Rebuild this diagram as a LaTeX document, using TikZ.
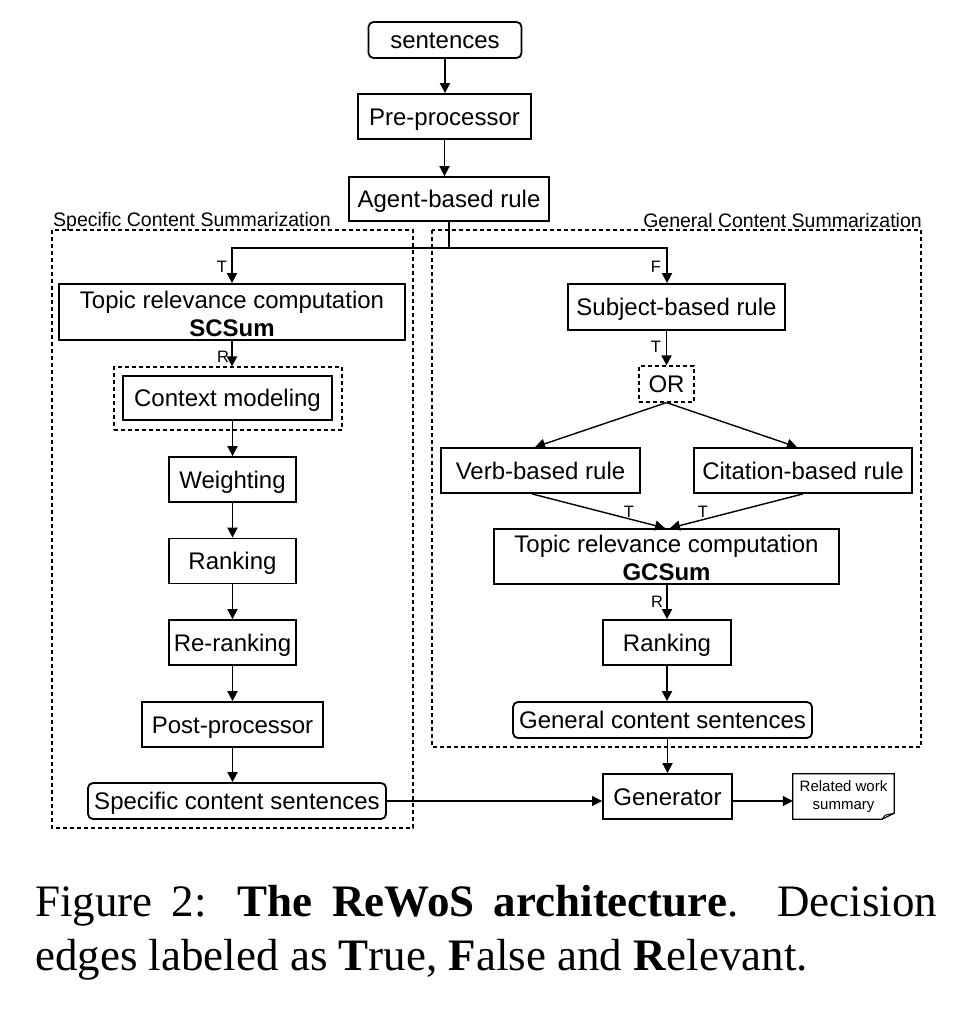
\documentclass[tikz,border=0pt]{standalone}
\usepackage{fontspec}
\setmainfont{Liberation Serif}
\newfontfamily\dsans{Liberation Sans}
\usetikzlibrary{arrows.meta}
\newcommand{\boxfont}{\dsans\fontsize{24}{25}\selectfont}
\newcommand{\labfont}{\dsans\fontsize{16.5}{18}\selectfont}
\newcommand{\secfont}{\dsans\fontsize{19.5}{21}\selectfont}
\newcommand{\notefont}{\dsans\fontsize{15}{18}\selectfont}
\begin{document}
\begin{tikzpicture}[x=1pt,y=-1pt,
  box/.style={draw, line width=1.8pt, inner sep=0pt, font=\boxfont, align=center, text height=20pt, text depth=2.8pt},
  rbox/.style={box, rounded corners=5pt},
  dbox/.style={draw, line width=1.2pt, dash pattern=on 4pt off 3pt},
  txt/.style={font=\boxfont, inner sep=0pt, anchor=base},
  arr/.style={-{Triangle[length=10pt,width=10pt]}, line width=1.8pt},
  thin arr/.style={-{Triangle[length=10pt,width=10pt]}, line width=1.4pt},
  lab/.style={font=\labfont, inner sep=0pt},
  sec/.style={font=\secfont, inner sep=0pt}]
\useasboundingbox (0,0) rectangle (968,1024);
\fill[white] (0,0) rectangle (968,1024);

% section frames
\draw[dbox] (52,230) rectangle (413,828);
\draw[dbox] (432,230) rectangle (921,747);
\node[sec, anchor=west] (secL) at (53,221) {Specific Content Summarization};
\node[sec, anchor=east] (secR) at (922,221) {General Content Summarization};

% top chain
\node[rbox, minimum width=153pt, minimum height=36pt] (sent) at (445,40) {sentences};
\node[box, minimum width=173pt, minimum height=45pt] (pre) at (444.5,116.5) {Pre-processor};
\node[box, minimum width=200pt, minimum height=44pt] (agent) at (449,199) {Agent-based rule};

% left branch
\node[box, minimum width=346pt, minimum height=56pt] (tr1) at (232,312) {};
\node[txt] (tr1a) at (232,308) {Topic relevance computation};
\node[txt] (tr1b) at (232,336) {\textbf{SCSum}};
\node[dbox, inner sep=0pt, minimum width=228pt, minimum height=63pt] (ctxo) at (228,398.5) {};
\node[box, line width=1.1pt, minimum width=209pt, minimum height=44pt] (ctx) at (227.5,398) {Context modeling};
\node[box, minimum width=127pt, minimum height=45pt] (weight) at (232.5,479.5) {Weighting};
\node[box, minimum width=127pt, minimum height=45pt] (rank1) at (232.5,561) {Ranking};
\node[box, minimum width=127pt, minimum height=45pt] (rerank) at (232.5,642.5) {Re-ranking};
\node[box, minimum width=181pt, minimum height=45pt] (post) at (232.5,724.5) {Post-processor};
\node[rbox, minimum width=298pt, minimum height=36pt] (scs) at (237,801) {Specific content sentences};

% right branch
\node[box, minimum width=217pt, minimum height=46pt] (subj) at (676.5,307) {Subject-based rule};
\node[dbox, inner sep=0pt, minimum width=55pt, minimum height=36pt, font=\boxfont, text height=20pt, text depth=2.8pt] (or) at (666.5,384) {OR};
\node[box, minimum width=199pt, minimum height=45pt] (verb) at (540.5,470.5) {Verb-based rule};
\node[box, minimum width=218pt, minimum height=45pt] (cit) at (803,470.5) {Citation-based rule};
\node[box, minimum width=345pt, minimum height=55pt] (tr2) at (666.5,556.5) {};
\node[txt] (tr2a) at (666.5,552) {Topic relevance computation};
\node[txt] (tr2b) at (666.5,580) {\textbf{GCSum}};
\node[box, minimum width=128pt, minimum height=45pt] (rank2) at (667,642.5) {Ranking};
\node[rbox, minimum width=299pt, minimum height=36pt] (gcs) at (662.5,720) {General content sentences};

% bottom
\node[box, minimum width=129pt, minimum height=45pt] (gen) at (667.5,796.5) {Generator};
\node[inner sep=0pt, minimum width=101pt, minimum height=45pt, font=\notefont, align=center] (note) at (843.5,796.5) {Related work\\summary};
\draw[line width=1.2pt] (note.north west) -- (note.north east) -- ([yshift=6pt]note.south east) -- ([xshift=-12pt]note.south east) -- (note.south west) -- cycle;
\draw[line width=1pt] ([xshift=-12pt]note.south east) -- ([xshift=-9pt,yshift=4pt]note.south east) -- ([yshift=6pt]note.south east);

% connectors
\draw[arr] (sent.south) -- (sent.south |- pre.north);
\draw[arr] (pre.south) -- (pre.south |- agent.north);
\coordinate (br) at (449,248);
\coordinate (brF) at (667,248);
\draw[line width=1.8pt] (agent.south) -- (br);
\draw[arr] (br) -| (tr1.north);
\draw[arr] (br) -- (brF) -- (brF |- subj.north);
\draw[arr] (tr1.south) -- (tr1.south |- ctxo.north);
\draw[arr] (weight.north |- ctx.south) -- (weight.north);
\draw[arr] (weight.south) -- (rank1.north);
\draw[arr] (rank1.south) -- (rerank.north);
\draw[arr] (rerank.south) -- (rerank.south |- post.north);
\draw[arr] (post.south) -- (post.south |- scs.north);

\draw[arr] (or.north |- subj.south) -- (or.north);
\draw[thin arr] (or.south) -- ([xshift=-5.5pt]verb.north);
\draw[thin arr] (or.south) -- ([xshift=-6pt]cit.north);
\draw[thin arr] ([xshift=-8.5pt]verb.south) -- ([xshift=-1.5pt]tr2.north);
\draw[thin arr] (cit.south) -- ([xshift=3.5pt]tr2.north);
\draw[arr] (rank2.north |- tr2.south) -- (rank2.north);
\draw[arr] (rank2.south) -- (rank2.south |- gcs.north);
\draw[arr] (gen.north |- gcs.south) -- (gen.north);
\draw[thin arr] (scs.east) -- (gen.west |- scs.east);
\draw[thin arr] (gen.east |- scs.east) -- (note.west |- scs.east);

% edge labels
\node[lab] (lT1) at (222,267) {T};
\node[lab] (lF) at (656,267) {F};
\node[lab] (lR1) at (223,357) {R};
\node[lab] (lT2) at (656,347) {T};
\node[lab] (lT3) at (629,512) {T};
\node[lab] (lT4) at (703,512) {T};
\node[lab] (lR2) at (657,602) {R};

% caption
\node[anchor=base west, inner sep=0pt, font=\fontsize{45}{54}\selectfont] (cap1) at (35,916)
  {\makebox[902pt][s]{Figure 2: \textbf{The ReWoS architecture}. Decision}};
\node[anchor=base west, inner sep=0pt, font=\fontsize{45}{54}\selectfont] (cap2) at (35,970)
  {edges labeled as \textbf{T}rue, \textbf{F}alse and \textbf{R}elevant.};
\end{tikzpicture}
\end{document}
